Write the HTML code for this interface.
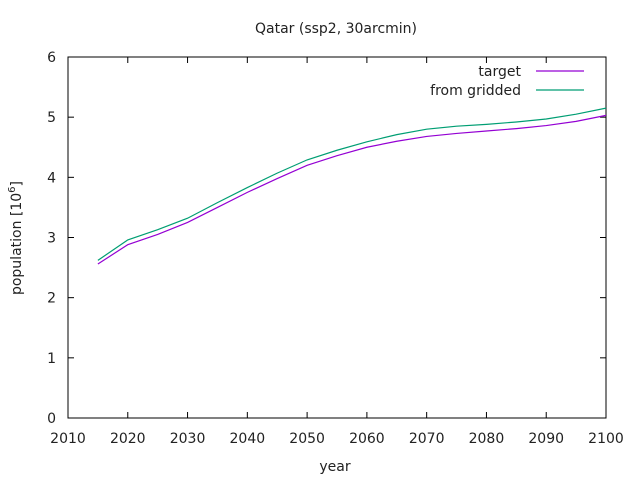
<!DOCTYPE html>
<html><head><meta charset="utf-8"><style>
body{margin:0;background:#fff}
svg{display:block;font-family:"DejaVu Sans","Liberation Sans",sans-serif}
</style></head><body>
<svg id="c" width="640" height="480">
<text x="336" y="33" text-anchor="middle" font-size="14" fill="#222">Qatar (ssp2, 30arcmin)</text>
<text x="335" y="471" text-anchor="middle" font-size="14" fill="#222">year</text>
<text transform="translate(21,238) rotate(-90)" text-anchor="middle" font-size="14" fill="#222">population [10<tspan dy="-6" font-size="10">6</tspan><tspan dy="6">]</tspan></text>
<rect x="68" y="57" width="538" height="361" fill="none" stroke="#000" stroke-width="1"/>
<g id="ticks"></g>
<g id="series"></g>
<g>
<text x="521" y="76" text-anchor="end" font-size="14" fill="#222">target</text>
<line x1="536" y1="71" x2="584" y2="71" stroke="#9400d3" stroke-width="1.2"/>
<text x="521" y="95" text-anchor="end" font-size="14" fill="#222">from gridded</text>
<line x1="536" y1="90" x2="584" y2="90" stroke="#009e73" stroke-width="1.2"/>
</g>
</svg>
<script>
const years=[2015,2020,2025,2030,2035,2040,2045,2050,2055,2060,2065,2070,2075,2080,2085,2090,2095,2100];
const target=[2.56,2.88,3.05,3.25,3.5,3.75,3.98,4.2,4.36,4.5,4.6,4.68,4.73,4.77,4.81,4.86,4.93,5.03];
const gridded=[2.62,2.96,3.13,3.32,3.58,3.83,4.07,4.29,4.45,4.59,4.71,4.8,4.85,4.88,4.92,4.97,5.05,5.15];
const xTicks=[2010,2020,2030,2040,2050,2060,2070,2080,2090,2100];
const yTicks=[0,1,2,3,4,5,6];
const NS="http://www.w3.org/2000/svg";
const X=v=>68+(v-2010)/90*538, Y=v=>418-v/6*361;
const tg=document.getElementById('ticks');
function mk(t,a,p){const e=document.createElementNS(NS,t);for(const k in a)e.setAttribute(k,a[k]);p.appendChild(e);return e;}
xTicks.forEach(t=>{const x=X(t);
mk('line',{x1:x,y1:418,x2:x,y2:412,stroke:'#000'},tg);
mk('line',{x1:x,y1:57,x2:x,y2:63,stroke:'#000'},tg);
const tx=mk('text',{x:x,y:443,'text-anchor':'middle','font-size':14,fill:'#222'},tg);tx.textContent=t;

});
yTicks.forEach(t=>{const y=Y(t);
mk('line',{x1:68,y1:y,x2:74,y2:y,stroke:'#000'},tg);
mk('line',{x1:606,y1:y,x2:600,y2:y,stroke:'#000'},tg);
const tx=mk('text',{x:56,y:y+5,'text-anchor':'end','font-size':14,fill:'#222'},tg);tx.textContent=t;

});
const sg=document.getElementById('series');
function line(vals,col,name){const p=mk('polyline',{points:years.map((y,i)=>X(y)+','+Y(vals[i])).join(' '),fill:'none',stroke:col,'stroke-width':1.2},sg);

}
line(gridded,'#009e73','series-from-gridded');
line(target,'#9400d3','series-target');
</script>
</body></html>
